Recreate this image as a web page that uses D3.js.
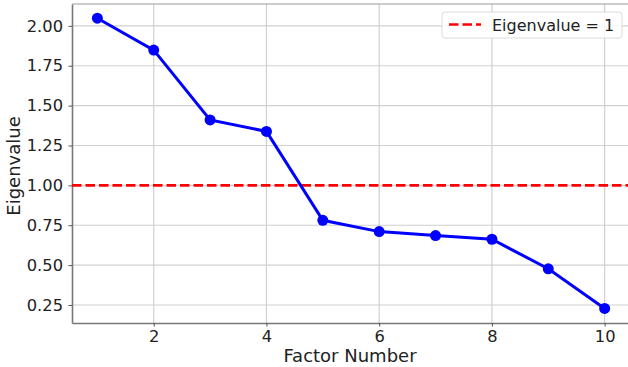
<!DOCTYPE html>
<html><head><meta charset="utf-8">
<script src="https://cdn.jsdelivr.net/npm/d3@7"></script>
<style>body{margin:0;background:#fff}svg{display:block}text{font-family:"DejaVu Sans",sans-serif;fill:#222}</style>
</head><body><svg id="c" width="628" height="367"></svg>
<script>
const factors = [1,2,3,4,5,6,7,8,9,10];
const eigenvalues = [2.048,1.848,1.41,1.338,0.781,0.710,0.685,0.662,0.477,0.228];
const xTicks = [2,4,6,8,10];
const yTicks = [0.25,0.5,0.75,1.0,1.25,1.5,1.75,2.0];
const threshold = 1;
const legendLabel = "Eigenvalue = 1";

const svg = d3.select("#c");
const m = {l:72, r:-2, t:4, b:44};
const W = 628, H = 367;
const x = d3.scaleLinear().domain([0.55,10.45]).range([m.l, W - m.r]);
const y = d3.scaleLinear().domain([0.137,2.137]).range([H - m.b, m.t]);

// grid
const g = svg.append("g");
g.selectAll(".gx").data(xTicks).join("line")
  .attr("x1",d=>x(d)).attr("x2",d=>x(d)).attr("y1",y.range()[0]).attr("y2",y.range()[1])
  .attr("stroke","#d0d0d0").attr("stroke-width",1.2);
g.selectAll(".gy").data(yTicks).join("line")
  .attr("y1",d=>y(d)).attr("y2",d=>y(d)).attr("x1",x.range()[0]).attr("x2",x.range()[1])
  .attr("stroke","#d0d0d0").attr("stroke-width",1.2);

// axes
const xa = svg.append("g").attr("transform",`translate(0,${H-m.b})`)
  .call(d3.axisBottom(x).tickValues(xTicks).tickSize(3.5).tickSizeOuter(0).tickPadding(3.5).tickFormat(d3.format("d")));
const ya = svg.append("g").attr("transform",`translate(${m.l},0)`)
  .call(d3.axisLeft(y).tickValues(yTicks).tickSize(3.5).tickSizeOuter(0).tickPadding(5.5).tickFormat(d3.format(".2f")));
[xa,ya].forEach(a=>{
  a.select(".domain").attr("stroke","#777").attr("stroke-width",1.6);
  a.selectAll(".tick line").attr("stroke","#555");
  a.selectAll(".tick text").attr("font-size",16.3).attr("font-family","DejaVu Sans").attr("fill","#222");
});
// top spine
svg.append("line").attr("x1",m.l).attr("x2",W).attr("y1",m.t).attr("y2",m.t).attr("stroke","#999").attr("stroke-width",1.2);

// threshold
svg.append("line").attr("x1",x.range()[0]).attr("x2",x.range()[1]).attr("y1",y(threshold)).attr("y2",y(threshold))
  .attr("stroke","#ff0000").attr("stroke-width",2.6).attr("stroke-dasharray","9.5,4");

// line
const line = d3.line().x((d,i)=>x(factors[i])).y(d=>y(d));
svg.append("path").datum(eigenvalues).attr("d",line).attr("fill","none").attr("stroke","#0000ff").attr("stroke-width",3);
svg.selectAll(".pt").data(eigenvalues).join("circle")
  .attr("cx",(d,i)=>x(factors[i])).attr("cy",d=>y(d)).attr("r",5.5).attr("fill","#0000ff");

// labels
svg.append("text").attr("x",350).attr("y",362).attr("text-anchor","middle").attr("font-size",18).text("Factor Number");
svg.append("text").attr("transform",`translate(19.5,166) rotate(-90)`).attr("text-anchor","middle").attr("font-size",18).text("Eigenvalue");

// legend
const lg = svg.append("g");
lg.append("rect").attr("x",442).attr("y",12).attr("width",180).attr("height",26).attr("rx",3)
  .attr("fill","#fff").attr("fill-opacity",0.85).attr("stroke","#dcdcdc");
lg.append("line").attr("x1",449).attr("x2",481).attr("y1",24.5).attr("y2",24.5)
  .attr("stroke","#ff0000").attr("stroke-width",2.6).attr("stroke-dasharray","9.5,4");
lg.append("text").attr("x",492).attr("y",30.5).attr("font-size",16).text(legendLabel);
</script></body></html>
